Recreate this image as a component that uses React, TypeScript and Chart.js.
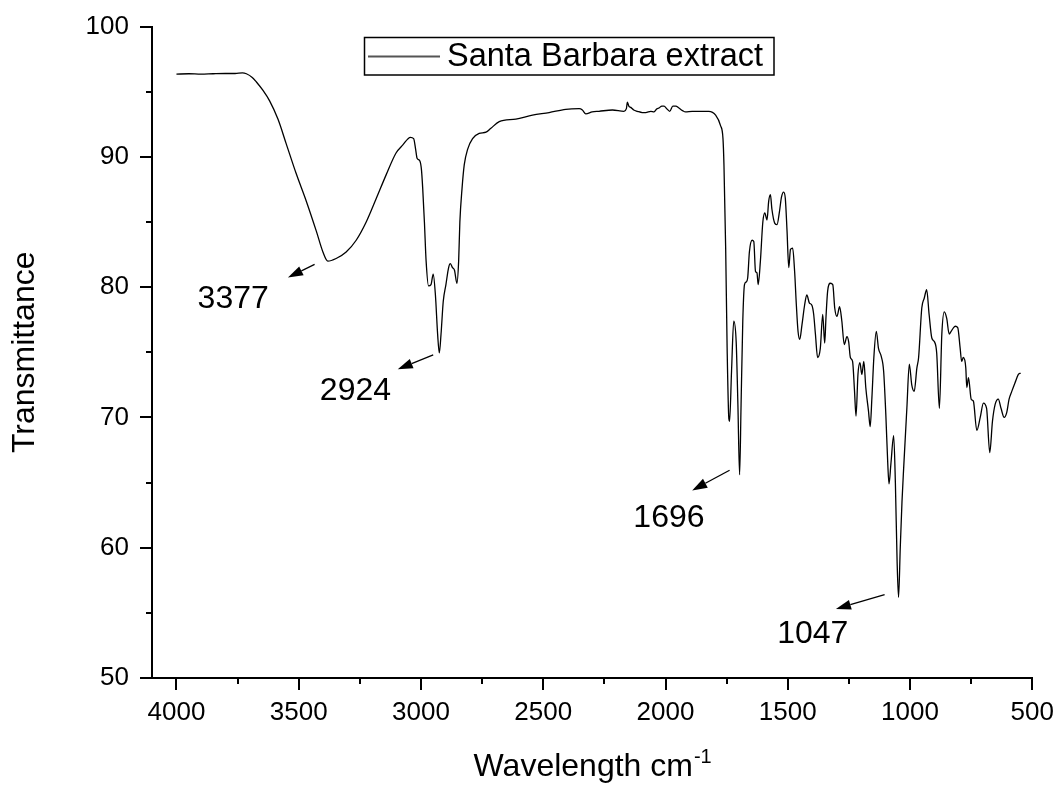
import { useEffect, useRef } from 'react';
import { Chart, registerables } from 'chart.js';

Chart.register(...registerables);

const FONT = '"Liberation Sans", Arial, Helvetica, sans-serif';

// Spectrum (wavenumber in cm-1, transmittance in %)
const WAVENUMBER = [
  4000, 3950, 3900, 3850, 3800, 3760, 3730, 3714, 3690, 3673, 3646, 3619, 3585, 3551, 3510, 3469, 3428, 3401, 3381,
  3347, 3306, 3265, 3224, 3183, 3143, 3102, 3075, 3043, 3030, 3022, 3016, 3005, 2998, 2993, 2986, 2979, 2969, 2959, 2950,
  2941, 2932, 2925, 2918, 2909, 2898, 2887, 2880, 2871, 2863, 2853, 2846, 2841, 2832, 2823, 2809, 2789, 2762, 2734, 2714,
  2680, 2612, 2544, 2476, 2408, 2353, 2340, 2326, 2300, 2272, 2217, 2170, 2160, 2156, 2150, 2142, 2130, 2115, 2095, 2081,
  2060, 2047, 2035, 2027, 2015, 2006, 1995, 1983, 1970, 1958, 1945, 1930, 1918, 1891, 1850, 1823, 1795, 1775, 1765, 1761,
  1754, 1748, 1741, 1738, 1730, 1721, 1711, 1704, 1697, 1691, 1684, 1677, 1670, 1664, 1657, 1646, 1639, 1632, 1626, 1621,
  1612, 1602, 1594, 1585, 1578, 1571, 1565, 1553, 1544, 1534, 1526, 1517, 1510, 1503, 1496, 1489, 1480, 1472, 1465, 1458,
  1451, 1442, 1431, 1422, 1412, 1401, 1394, 1387, 1378, 1367, 1357, 1349, 1344, 1337, 1326, 1316, 1308, 1299, 1288, 1279,
  1269, 1258, 1251, 1244, 1235, 1227, 1221, 1213, 1205, 1197, 1189, 1181, 1170, 1163, 1156, 1148, 1138, 1129, 1118, 1108,
  1099, 1091, 1086, 1078, 1067, 1060, 1053, 1047, 1040, 1033, 1026, 1013, 1003, 993, 983, 972, 965, 952, 942, 932,
  922, 911, 900, 891, 880, 870, 860, 850, 840, 832, 822, 815, 805, 795, 789, 782, 772, 768, 761, 750,
  741, 727, 713, 700, 687, 674, 663, 652, 639, 628, 615, 605, 595, 584, 571, 557, 548,
];
const TRANSMITTANCE = [
  96.35, 96.38, 96.35, 96.38, 96.4, 96.4, 96.45, 96.38, 96.1, 95.75, 95.1, 94.3, 92.9, 91.0, 88.7, 86.6, 84.3, 82.7, 82.0,
  82.2, 82.7, 83.6, 85.0, 86.8, 88.6, 90.3, 90.9, 91.5, 91.4, 90.6, 89.9, 89.7, 89.0, 87.6, 85.0, 82.0, 80.1, 80.2, 81.0,
  79.4, 76.4, 74.95, 76.4, 78.9, 80.2, 81.5, 81.8, 81.5, 81.3, 80.3, 82.0, 85.0, 87.6, 89.4, 90.6, 91.4, 91.8, 91.9, 92.2,
  92.7, 92.9, 93.2, 93.4, 93.65, 93.7, 93.6, 93.3, 93.45, 93.5, 93.6, 93.5, 93.7, 94.2, 93.9, 93.8, 93.6, 93.5, 93.4, 93.4,
  93.5, 93.45, 93.7, 93.75, 93.9, 93.9, 93.7, 93.5, 93.9, 93.9, 93.75, 93.55, 93.45, 93.5, 93.5, 93.5, 93.2, 92.4, 91.4, 89.4,
  83.0, 75.3, 69.9, 69.7, 73.55, 77.4, 75.8, 71.0, 65.6, 71.0, 77.4, 80.2, 80.4, 80.7, 82.7, 83.6, 83.5, 81.2, 81.1, 80.2,
  82.0, 85.0, 85.7, 85.15, 86.6, 87.1, 86.0, 84.9, 84.8, 85.8, 86.9, 87.3, 86.8, 84.3, 81.5, 82.9, 83.0, 81.2, 78.65, 76.6,
  76.0, 77.1, 78.65, 79.4, 78.8, 78.6, 77.9, 76.4, 74.6, 75.3, 77.9, 75.7, 77.6, 79.7, 80.3, 80.2, 78.4, 77.75, 78.5, 77.4,
  75.6, 76.2, 75.8, 74.6, 74.3, 72.0, 70.1, 73.3, 74.2, 73.3, 74.3, 72.3, 70.5, 69.3, 71.5, 74.6, 76.6, 75.3, 74.7, 73.55,
  70.2, 66.4, 64.9, 66.5, 68.6, 65.0, 59.0, 56.2, 60.0, 63.5, 66.15, 70.7, 74.1, 72.5, 72.0, 73.8, 74.6, 78.4, 79.15, 79.8,
  77.9, 76.1, 75.8, 74.95, 70.7, 76.4, 78.1, 77.6, 76.4, 76.6, 76.9, 77.0, 76.9, 75.3, 74.3, 74.6, 73.8, 72.3, 73.05, 71.4,
  71.25, 69.0, 70.0, 71.1, 70.7, 67.3, 69.7, 71.0, 71.4, 70.7, 70.0, 70.35, 71.4, 72.0, 72.65, 73.3, 73.4,
];

const SERIES_LABEL = 'Santa Barbara extract';
const X_TICKS = [4000, 3500, 3000, 2500, 2000, 1500, 1000, 500];
const X_MINOR_TICKS = [3750, 3250, 2750, 2250, 1750, 1250, 750];
const Y_TICKS = [50, 60, 70, 80, 90, 100];
const Y_MINOR_TICKS = [55, 65, 75, 85, 95];
const X_TITLE = 'Wavelength cm';
const X_TITLE_SUP = '-1';
const Y_TITLE = 'Transmittance';

// Peak annotations (data coordinates)
const PEAK_LABELS = ['3377', '2924', '1696', '1047'];
const ARROW_TAIL_X = [3435, 2950, 1738, 1104];
const ARROW_TAIL_Y = [81.75, 74.8, 65.95, 56.4];
const ARROW_HEAD_X = [3544, 3095, 1891, 1303];
const ARROW_HEAD_Y = [80.74, 73.7, 64.4, 55.3];
const LABEL_X = [3768, 3268, 1986, 1398];
const LABEL_Y = [79.1, 72.0, 62.3, 53.4];

const overlayPlugin = {
  id: 'overlay',
  afterDraw(chart: any) {
    const { ctx, chartArea } = chart;
    const xs = chart.scales.x;
    const ys = chart.scales.y;
    ctx.save();

    // minor ticks
    ctx.strokeStyle = '#000';
    ctx.lineWidth = 2;
    ctx.beginPath();
    X_MINOR_TICKS.forEach((v) => {
      const px = Math.round(xs.getPixelForValue(v));
      ctx.moveTo(px, chartArea.bottom);
      ctx.lineTo(px, chartArea.bottom + 6);
    });
    Y_MINOR_TICKS.forEach((v) => {
      const py = Math.round(ys.getPixelForValue(v));
      ctx.moveTo(chartArea.left - 6, py);
      ctx.lineTo(chartArea.left, py);
    });
    ctx.stroke();

    // Legend box
    ctx.lineWidth = 1.5;
    ctx.strokeStyle = '#000';
    ctx.strokeRect(364.5, 37.5, 409.5, 37.5);
    ctx.beginPath();
    ctx.strokeStyle = '#555';
    ctx.lineWidth = 2;
    ctx.moveTo(368, 56.5);
    ctx.lineTo(440, 56.5);
    ctx.stroke();
    ctx.fillStyle = '#000';
    ctx.font = `32.5px ${FONT}`;
    ctx.textAlign = 'left';
    ctx.textBaseline = 'middle';
    ctx.fillText(SERIES_LABEL, 447, 57);

    // Y axis title
    ctx.save();
    ctx.translate(25, (chartArea.top + chartArea.bottom) / 2);
    ctx.rotate(-Math.PI / 2);
    ctx.textAlign = 'center';
    ctx.textBaseline = 'middle';
    ctx.font = `32px ${FONT}`;
    ctx.fillText(Y_TITLE, 0, 0);
    ctx.restore();

    // X axis title with superscript
    ctx.font = `32px ${FONT}`;
    const w1 = ctx.measureText(X_TITLE).width;
    ctx.font = `20px ${FONT}`;
    const w2 = ctx.measureText(X_TITLE_SUP).width;
    const cx = (chartArea.left + chartArea.right) / 2;
    const startX = cx - (w1 + w2) / 2;
    const baseY = 776;
    ctx.textAlign = 'left';
    ctx.textBaseline = 'alphabetic';
    ctx.font = `32px ${FONT}`;
    ctx.fillText(X_TITLE, startX, baseY);
    ctx.font = `20px ${FONT}`;
    ctx.fillText(X_TITLE_SUP, startX + w1 + 1, baseY - 13);

    // Peak annotations
    for (let i = 0; i < PEAK_LABELS.length; i++) {
      const tx = xs.getPixelForValue(ARROW_TAIL_X[i]);
      const ty = ys.getPixelForValue(ARROW_TAIL_Y[i]);
      const hx = xs.getPixelForValue(ARROW_HEAD_X[i]);
      const hy = ys.getPixelForValue(ARROW_HEAD_Y[i]);
      const ang = Math.atan2(hy - ty, hx - tx);
      const headLen = 15;
      const headHalf = 5;
      const bx = hx - headLen * Math.cos(ang);
      const by = hy - headLen * Math.sin(ang);
      ctx.strokeStyle = '#000';
      ctx.lineWidth = 1.3;
      ctx.beginPath();
      ctx.moveTo(tx, ty);
      ctx.lineTo(bx, by);
      ctx.stroke();
      ctx.fillStyle = '#000';
      ctx.beginPath();
      ctx.moveTo(hx, hy);
      ctx.lineTo(bx + headHalf * Math.sin(ang), by - headHalf * Math.cos(ang));
      ctx.lineTo(bx - headHalf * Math.sin(ang), by + headHalf * Math.cos(ang));
      ctx.closePath();
      ctx.fill();

      ctx.font = `32px ${FONT}`;
      ctx.textAlign = 'center';
      ctx.textBaseline = 'middle';
      ctx.fillText(PEAK_LABELS[i], xs.getPixelForValue(LABEL_X[i]), ys.getPixelForValue(LABEL_Y[i]));
    }

    ctx.restore();
  },
};

export default function App() {
  const canvasRef = useRef<HTMLCanvasElement | null>(null);

  useEffect(() => {
    const canvas = canvasRef.current;
    if (!canvas) return;
    const points = WAVENUMBER.map((x, i) => ({ x, y: TRANSMITTANCE[i] }));
    const tickFont = { family: FONT, size: 26 };
    const chart = new Chart(canvas, {
      type: 'scatter',
      data: {
        datasets: [
          {
            label: SERIES_LABEL,
            data: points,
            showLine: true,
            borderColor: '#000',
            backgroundColor: '#000',
            borderWidth: 1.3,
            pointRadius: 0,
            pointHoverRadius: 0,
            fill: false,
            cubicInterpolationMode: 'monotone',
          } as any,
        ],
      },
      options: {
        responsive: true,
        maintainAspectRatio: false,
        animation: false,
        events: [],
        layout: { padding: { left: 0, top: 24, right: 27, bottom: 0 } },
        plugins: { legend: { display: false }, tooltip: { enabled: false } },
        scales: {
          x: {
            type: 'linear',
            reverse: true,
            min: 500,
            max: 4100,
            afterBuildTicks: (s: any) => {
              s.ticks = X_TICKS.map((v) => ({ value: v }));
            },
            afterFit: (s: any) => {
              s.height = 108;
            },
            ticks: {
              font: tickFont,
              color: '#000',
              padding: 7,
              maxRotation: 0,
              autoSkip: false,
              callback: (v: any) => `${v}`,
            },
            grid: { display: true, drawOnChartArea: false, drawTicks: true, tickLength: 12, color: '#000', lineWidth: 2 },
            border: { display: true, color: '#000', width: 2 },
          },
          y: {
            type: 'linear',
            min: 50,
            max: 100,
            afterBuildTicks: (s: any) => {
              s.ticks = Y_TICKS.map((v) => ({ value: v }));
            },
            afterFit: (s: any) => {
              s.width = 152;
            },
            ticks: {
              font: tickFont,
              color: '#000',
              padding: 11,
              autoSkip: false,
              callback: (v: any) => `${v}`,
            },
            grid: { display: true, drawOnChartArea: false, drawTicks: true, tickLength: 12, color: '#000', lineWidth: 2 },
            border: { display: true, color: '#000', width: 2 },
          },
        },
      },
      plugins: [overlayPlugin],
    });
    return () => chart.destroy();
  }, []);

  return (
    <div style={{ position: 'fixed', left: 0, top: 0, width: 1061, height: 786, background: '#fff' }}>
      <canvas ref={canvasRef} />
    </div>
  );
}
